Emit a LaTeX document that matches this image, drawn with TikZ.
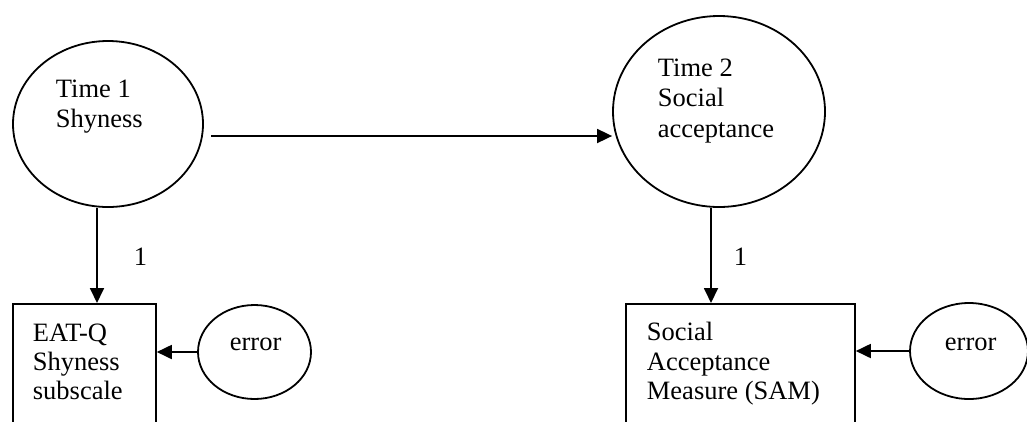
\documentclass[tikz,border=0pt]{standalone}
\usepackage{fontspec}
\setmainfont{Liberation Serif}
\usetikzlibrary{arrows.meta,shapes.geometric}
\begin{document}
\begin{tikzpicture}[x=1pt,y=-1pt,
  line width=1.8pt,
  latent/.style={draw,ellipse,inner sep=0pt},
  measure/.style={draw,rectangle,inner sep=0pt,anchor=north west,minimum height=160pt},
  txt/.style={inner sep=0pt,anchor=base west,font=\fontsize{26.5}{30}\selectfont},
  path arrow/.style={-{Triangle[length=15pt,width=14pt]}}]
  \useasboundingbox (0,0) rectangle (1027,421);
  \clip (0,0) rectangle (1027,421);

  % latent variables
  \node[latent,minimum width=190pt,minimum height=166pt] (t1) at (108,124) {};
  \node[latent,minimum width=212pt,minimum height=191pt] (t2) at (719,111.5) {};

  % observed measures (run past the lower edge)
  \node[measure,minimum width=143pt] (b1) at (12,303) {};
  \node[measure,minimum width=229pt] (b2) at (625,303) {};

  % error terms
  \node[latent,minimum width=113pt,minimum height=94pt] (e1) at (254.5,352) {};
  \node[latent,minimum width=118pt,minimum height=96pt] (e2) at (969,351) {};

  % labels
  \node[txt] (t1a) at (55,97) {Time 1};
  \node[txt] (t1b) at (55,127) {Shyness};
  \node[txt] (t2a) at (657,76) {Time 2};
  \node[txt] (t2b) at (657,106.5) {Social};
  \node[txt] (t2c) at (657,137) {acceptance};
  \node[txt] (b1a) at (32,341) {EAT-Q};
  \node[txt] (b1b) at (32,370) {Shyness};
  \node[txt] (b1c) at (32,399) {subscale};
  \node[txt] (b2a) at (646,340) {Social};
  \node[txt] (b2b) at (646,370) {Acceptance};
  \node[txt] (b2c) at (646,399) {Measure (SAM)};
  \node[txt] (e1t) at (229,350) {error};
  \node[txt] (e2t) at (944,350) {error};
  \node[txt] (l1) at (133,265.5) {1};
  \node[txt] (l2) at (733,265.5) {1};

  % paths
  \coordinate (h1) at (211,136);
  \draw[path arrow] (h1) -- (h1 -| t2.west);
  \coordinate (v1) at (97,207.5);
  \draw[path arrow] (v1) -- (v1 |- b1.north);
  \coordinate (v2) at (711,207.5);
  \draw[path arrow] (v2) -- (v2 |- b2.north);
  \draw[path arrow] (e1.west) -- (e1.west -| b1.east);
  \draw[path arrow] (e2.west) -- (e2.west -| b2.east);
\end{tikzpicture}
\end{document}
